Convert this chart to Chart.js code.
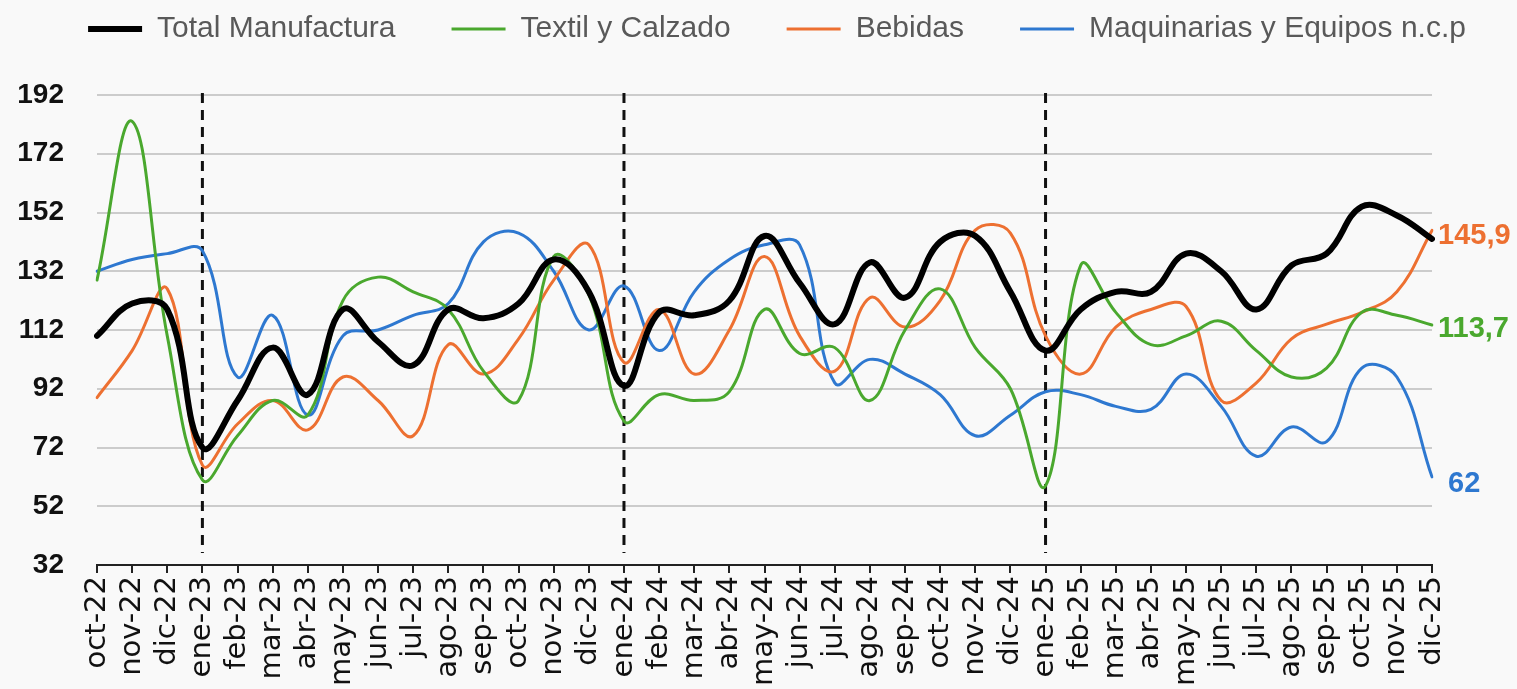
<!DOCTYPE html>
<html>
<head>
<meta charset="utf-8">
<script src="https://cdn.jsdelivr.net/npm/chart.js@4.4.1/dist/chart.umd.min.js"></script>
<style>
  html, body { margin: 0; padding: 0; background: #f9f9f9; }
  #wrap { width: 1517px; height: 689px; }
</style>
</head>
<body>
<div id="wrap"><canvas id="indChart" width="1517" height="689"></canvas></div>
<script>
// Datos (índices mensuales)
const months = ['oct-22', 'nov-22', 'dic-22',
  'ene-23', 'feb-23', 'mar-23', 'abr-23', 'may-23', 'jun-23', 'jul-23', 'ago-23', 'sep-23', 'oct-23', 'nov-23', 'dic-23',
  'ene-24', 'feb-24', 'mar-24', 'abr-24', 'may-24', 'jun-24', 'jul-24', 'ago-24', 'sep-24', 'oct-24', 'nov-24', 'dic-24',
  'ene-25', 'feb-25', 'mar-25', 'abr-25', 'may-25', 'jun-25', 'jul-25', 'ago-25', 'sep-25', 'oct-25', 'nov-25', 'dic-25'];

const totalManufactura = [110, 121, 119,
  72, 88, 106, 90, 119, 108, 100, 119, 116, 121, 136, 125,
  93, 118, 117, 122, 144, 128, 114, 135, 123, 142, 144, 125,
  105, 119, 125, 125, 138, 132, 119, 134, 138, 154, 151, 143];

const textilCalzado = [129, 183, 110,
  61, 76, 88, 83, 122, 130, 125, 119, 98, 88, 137, 124,
  81, 90, 88, 91, 119, 104, 106, 88, 112, 126, 106, 92,
  59, 134, 118, 107, 110, 115, 105, 96, 99, 118, 117, 113.7];

const bebidas = [89, 105, 126,
  66, 80, 88, 78, 96, 88, 76, 107, 97, 109, 129, 141,
  101, 119, 97, 112, 137, 110, 98, 123, 113, 122, 146, 145,
  110, 97, 113, 119, 120, 88, 94, 109, 114, 118, 125, 145.9];

const maquinarias = [132, 136, 138,
  139, 96, 117, 83, 110, 112, 117, 121, 142, 145, 132, 112,
  127, 105, 125, 136, 141, 141, 94, 102, 97, 90, 76, 83,
  91, 90, 86, 85, 97, 86, 69, 79, 74, 99, 96, 62];

const yTicks = [32, 52, 72, 92, 112, 132, 152, 172, 192];
const dividers = ['ene-23', 'ene-24', 'ene-25'];

// Líneas verticales punteadas (inicio de cada año)
const dividerLines = {
  id: 'dividerLines',
  beforeDatasetsDraw(chart) {
    const { ctx, chartArea, scales: { x } } = chart;
    ctx.save();
    ctx.strokeStyle = '#111';
    ctx.lineWidth = 3;
    ctx.setLineDash([10, 7]);
    dividers.forEach(lbl => {
      const px = x.getPixelForValue(months.indexOf(lbl));
      ctx.beginPath();
      ctx.moveTo(px, chartArea.top - 2);
      ctx.lineTo(px, chartArea.bottom - 12);
      ctx.stroke();
    });
    ctx.restore();
  }
};

// Etiqueta del último valor de cada serie
const lastLabels = {
  id: 'lastLabels',
  afterDatasetsDraw(chart) {
    const { ctx } = chart;
    const offsets = { 1: [6, 4], 2: [6, 6], 3: [16, 7] };
    ctx.save();
    ctx.font = 'bold 29px "Liberation Sans", Arial, sans-serif';
    ctx.textAlign = 'left';
    ctx.textBaseline = 'middle';
    Object.keys(offsets).forEach(i => {
      const ds = chart.data.datasets[i];
      const meta = chart.getDatasetMeta(i);
      const last = meta.data[meta.data.length - 1];
      const val = ds.data[ds.data.length - 1];
      ctx.fillStyle = ds.borderColor;
      ctx.fillText(String(val).replace('.', ','), last.x + offsets[i][0], last.y + offsets[i][1]);
    });
    ctx.restore();
  }
};

// Leyenda en una sola fila y separada del área del gráfico
const legendSpace = {
  id: 'legendSpace',
  afterInit(chart) {
    const lg = chart.legend;
    const fit = lg.fit.bind(lg);
    const draw = lg.draw.bind(lg);
    lg.fit = function () { this.maxWidth = 1700; fit(); this.height = 95; };
    lg.draw = function () {
      const l = this.left, r = this.right;
      this.left = l - 300;
      this.right = r + 300;
      chart.ctx.save();
      chart.ctx.translate(61, -42);
      draw();
      chart.ctx.restore();
      this.left = l;
      this.right = r;
    };
  }
};

const ctx = document.getElementById('indChart').getContext('2d');
const chart = new Chart(ctx, {
  type: 'line',
  data: {
    labels: months,
    datasets: [
      { label: 'Total Manufactura', data: totalManufactura, borderColor: '#000000', backgroundColor: '#000000', borderWidth: 6 },
      { label: 'Textil y Calzado', data: textilCalzado, borderColor: '#4aa82e', backgroundColor: '#4aa82e', borderWidth: 3 },
      { label: 'Bebidas', data: bebidas, borderColor: '#ed7031', backgroundColor: '#ed7031', borderWidth: 3 },
      { label: 'Maquinarias y Equipos n.c.p', data: maquinarias, borderColor: '#2e78d0', backgroundColor: '#2e78d0', borderWidth: 3 }
    ]
  },
  options: {
    responsive: false,
    animation: false,
    layout: { padding: { left: 0, right: 85, top: 0, bottom: 0 } },
    elements: {
      point: { radius: 0 },
      line: { tension: 0.4, borderCapStyle: 'round', borderJoinStyle: 'round' }
    },
    plugins: {
      tooltip: { enabled: false },
      legend: {
        position: 'top',
        align: 'center',
        labels: {
          usePointStyle: true,
          pointStyle: 'line',
          pointStyleWidth: 54,
          boxHeight: 6,
          padding: 56,
          color: '#595959',
          font: { family: '"Liberation Sans", Arial, sans-serif', size: 30 }
        }
      }
    },
    scales: {
      x: {
        type: 'category',
        offset: false,
        afterFit(s) { s.height = 124; },
        border: { display: true, color: '#222', width: 2 },
        grid: { drawOnChartArea: false, drawTicks: true, tickLength: 8, color: '#222', lineWidth: 2 },
        ticks: {
          autoSkip: false,
          maxRotation: 90,
          minRotation: 90,
          padding: 3,
          color: '#111',
          font: { family: '"DejaVu Sans", sans-serif', size: 29 }
        }
      },
      y: {
        min: 32,
        max: 192,
        afterFit(s) { s.width = 97; },
        afterBuildTicks(s) { s.ticks = yTicks.map(v => ({ value: v })); },
        border: { display: false },
        grid: { color: '#cccccc', lineWidth: 2, drawTicks: false },
        ticks: {
          padding: 33,
          color: '#111',
          font: { family: '"Liberation Sans", Arial, sans-serif', size: 28, weight: 'bold' }
        }
      }
    }
  },
  plugins: [dividerLines, lastLabels, legendSpace]
});
</script>
</body>
</html>
